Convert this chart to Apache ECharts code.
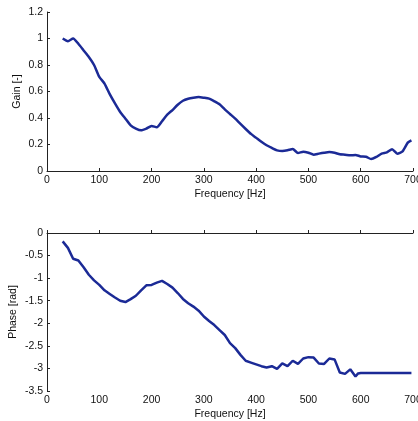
<!DOCTYPE html>
<html><head><meta charset="utf-8">
<script src="https://cdn.jsdelivr.net/npm/echarts@6/dist/echarts.min.js"></script>
<style>html,body{margin:0;padding:0;background:#fff}#c{width:418px;height:421px}</style>
</head><body><div id="c"></div>
<script>
const freq = [30,40,50,60,70,80,90,100,110,120,130,140,150,160,170,180,190,200,210,220,230,240,250,260,270,280,290,300,310,320,330,340,350,360,370,380,390,400,410,420,430,440,450,460,470,480,490,500,510,520,530,540,550,560,570,580,590,600,610,620,630,640,650,660,670,680,690,697];
const gain = [1.0,0.98,1.0,0.96,0.91,0.86,0.80,0.71,0.66,0.58,0.51,0.445,0.395,0.345,0.32,0.307,0.32,0.34,0.33,0.375,0.425,0.46,0.50,0.53,0.545,0.553,0.558,0.553,0.546,0.526,0.503,0.465,0.43,0.395,0.355,0.317,0.28,0.25,0.22,0.194,0.174,0.156,0.151,0.156,0.166,0.136,0.146,0.138,0.123,0.131,0.138,0.143,0.138,0.126,0.123,0.118,0.121,0.11,0.108,0.09,0.106,0.131,0.141,0.164,0.131,0.148,0.214,0.231];
const phaseFreq = [30,40,50,60,70,80,90,100,110,120,130,140,150,160,170,180,190,200,210,220,230,240,250,260,270,280,290,300,310,320,330,340,350,360,370,380,390,400,410,420,430,440,450,460,470,480,490,500,510,520,530,540,550,560,570,580,590,595,600,650,697];
const phase = [-0.185,-0.33,-0.57,-0.61,-0.76,-0.925,-1.05,-1.15,-1.27,-1.35,-1.43,-1.50,-1.53,-1.465,-1.39,-1.27,-1.16,-1.15,-1.10,-1.06,-1.13,-1.21,-1.33,-1.46,-1.555,-1.63,-1.72,-1.85,-1.95,-2.04,-2.15,-2.26,-2.44,-2.55,-2.70,-2.83,-2.87,-2.91,-2.95,-2.98,-2.95,-3.01,-2.89,-2.95,-2.83,-2.90,-2.78,-2.75,-2.76,-2.89,-2.90,-2.78,-2.80,-3.09,-3.12,-3.02,-3.18,-3.11,-3.10,-3.10,-3.10];
const xTicks = {min:0, max:700, interval:100};

const chart = echarts.init(document.getElementById('c'), null, {renderer:'canvas'});
const font = 'Arial, "Liberation Sans", sans-serif';
function xAxis(gi){
  return {type:'value', gridIndex:gi, min:xTicks.min, max:xTicks.max, interval:xTicks.interval,
    name:'Frequency [Hz]', nameLocation:'middle', nameGap:18, nameMoveOverlap:false,
    nameTextStyle:{fontFamily:font, fontSize:10.5, color:'#111'},
    axisLine:{lineStyle:{color:'#222', width:1}},
    axisTick:{inside:true, length:3, lineStyle:{color:'#222'}},
    axisLabel:{fontFamily:font, fontSize:10.5, color:'#111', margin:4, showMaxLabel:true},
    splitLine:{show:false}};
}
function yAxis(gi, name, min, max, interval, gap){
  return {type:'value', gridIndex:gi, min, max, interval, name, nameLocation:'middle', nameGap:gap, nameMoveOverlap:false,
    nameTextStyle:{fontFamily:font, fontSize:10.5, color:'#111'},
    axisLine:{show:true, lineStyle:{color:'#222', width:1}},
    axisTick:{show:true, inside:true, length:3, lineStyle:{color:'#222'}},
    axisLabel:{fontFamily:font, fontSize:10.5, color:'#111', margin:4},
    splitLine:{show:false}};
}
chart.setOption({
  animation:false,
  backgroundColor:'#fff',
  grid:[
    {left:47, right:5, top:12, height:159, outerBoundsMode:'none', containLabel:false},
    {left:47, right:5, top:233, height:158, outerBoundsMode:'none', containLabel:false}
  ],
  xAxis:[xAxis(0), xAxis(1)],
  yAxis:[yAxis(0,'Gain [-]',0,1.2,0.2,24), yAxis(1,'Phase [rad]',-3.5,0,0.5,28)],
  series:[
    {type:'line', xAxisIndex:0, yAxisIndex:0, data:freq.map((f,i)=>[f,gain[i]]), showSymbol:false, smooth:0.2,
      lineStyle:{color:'#1b2a96', width:2.5}},
    {type:'line', xAxisIndex:1, yAxisIndex:1, data:phaseFreq.map((f,i)=>[f,phase[i]]), showSymbol:false,
      lineStyle:{color:'#1b2a96', width:2.5}}
  ]
});
</script></body></html>
